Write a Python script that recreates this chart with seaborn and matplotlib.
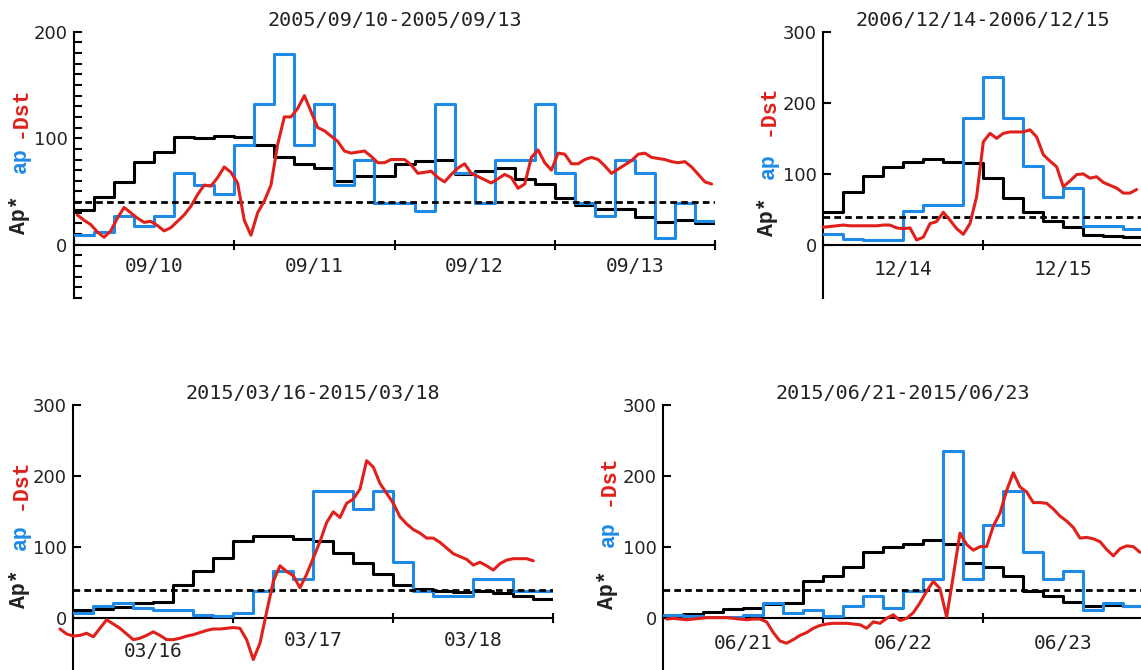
import numpy as np
import pandas as pd
import matplotlib
matplotlib.use("Agg")
import matplotlib.pyplot as plt
import seaborn as sns

# ---------------- data ----------------
titles = ["2005/09/10-2005/09/13", "2006/12/14-2006/12/15",
          "2015/03/16-2015/03/18", "2015/06/21-2015/06/23"]

day_labels_1 = ["09/10", "09/11", "09/12", "09/13"]
day_labels_2 = ["12/14", "12/15"]
day_labels_3 = ["03/16", "03/17", "03/18"]
day_labels_4 = ["06/21", "06/22", "06/23"]

# Ap* (3-hourly, black)
ap_star_1 = [33, 45, 59, 78, 87.5, 101, 100, 102.5, 101.5, 94, 82, 76, 72.5, 60, 65, 65,
             76, 79, 80, 66.5, 69, 72.5, 61.5, 57, 44, 37.5, 34, 34, 26, 21, 23, 20]
ap_star_2 = [47, 75, 97, 110, 117, 120.5, 117, 115, 94, 66, 46, 34, 25, 14, 12, 11]
ap_star_3 = [12, 13, 16.5, 21, 23.5, 47, 67, 85, 109, 116, 116, 112, 109, 92.5, 77.5, 62,
             47, 41, 39, 37.5, 39, 36, 32, 27]
ap_star_4 = [5, 6, 9, 13, 15, 20, 22, 52, 59, 73, 93, 101, 105, 110, 104, 78,
             73, 59, 39, 31, 23, 18, 19, 18]

# ap (3-hourly, blue)
ap_1 = [9, 12, 27, 18, 27, 67, 56, 48, 94, 132, 179, 94, 132, 56, 80, 39,
        39, 32, 132, 67, 39, 80, 80, 132, 67, 39, 27, 80, 67, 6, 39, 22]
ap_2 = [15, 9, 7, 7, 48, 56, 56, 179, 236, 179, 111, 67, 80, 27, 27, 22]
ap_3 = [7, 18, 22, 15, 12, 12, 5, 3, 7, 39, 67, 56, 179, 179, 154, 179,
        80, 39, 32, 32, 56, 56, 39, 39]
ap_4 = [4, 3, 2, 2, 4, 22, 7, 12, 3, 18, 32, 15, 39, 56, 236, 56,
        132, 179, 94, 56, 67, 12, 22, 18]

# -Dst (hourly, red); first sample hour of each event
dst_start_1 = 0.5
minus_dst_1 = [28, 23, 19, 12, 7, 13, 25, 35, 30, 25, 21, 22, 18, 13, 16, 22, 28, 36, 47, 56,
               55, 63, 73, 68, 58, 23, 9, 30, 41, 56, 94, 120, 120, 128, 140, 125, 110, 107, 102, 97,
               88, 86, 87, 88, 83, 77, 77, 80,
               80, 80, 75, 67, 68, 69, 63, 59, 66, 72, 76, 67, 64, 61, 58, 62, 66, 63, 53, 57,
               82, 89, 77, 70, 86, 85, 76, 76, 80, 82, 80, 74, 67, 71, 75, 79, 85, 86, 82, 81,
               80, 78, 77, 78, 73, 66, 59, 57]
dst_start_2 = 0
minus_dst_2 = [25, 26, 27, 28, 27, 27, 27, 27, 27, 28, 28, 24, 23, 24, 7, 11, 30, 33, 46, 35,
               23, 15, 30, 68, 145, 157, 150, 157, 159, 159, 159, 162, 152, 127, 118, 110, 82, 90, 99, 100,
               94, 96, 88, 84, 80, 73, 73, 78]
dst_start_3 = -2
minus_dst_3 = [-15, -22, -25, -24, -21, -26, -14, -2, -8, -14, -22, -30, -28, -24, -19, -24, -30, -30, -28, -25,
               -23, -20, -17, -15, -15, -14, -13, -14, -30, -58, -35, 9, 52, 74, 66, 60, 43, 62, 85, 108,
               135, 150, 142, 162, 168, 182, 222, 213, 190, 176, 162, 143, 133, 125, 120, 113, 113, 107, 99, 91,
               87, 83, 75, 79, 74, 68, 77, 82, 84, 84, 84, 81]
dst_start_4 = 0.5
minus_dst_4 = [-1, 0, -1, -2, -1, 0, 1, 1, 1, 1, 0, -1, -2, -1, -1, -5, -20, -32, -35, -30,
               -24, -20, -14, -10, -8, -7, -7, -7, -8, -9, -14, -5, -7, 0, 5, -3, 0, 8, 22, 38,
               52, 42, 2, 60, 120, 104, 96, 101, 101, 130, 148, 180, 205, 185, 178, 163, 163, 162, 154, 144,
               137, 128, 113, 114, 112, 108, 97, 88, 98, 102, 101, 93]

threshold = 40

# ---------------- style ----------------
BLUE = "#1f8ae6"
RED = "#e0201b"
TXT = "#222222"

sns.set_theme(style="white")
plt.rcParams["font.family"] = ["DejaVu Sans"]

W, H = 1141, 670
fig = plt.figure(figsize=(W / 100, H / 100), dpi=100)


def rect(x0, y0, x1, y1):
    return [x0 / W, 1 - y1 / H, (x1 - x0) / W, (y1 - y0) / H]


def steps_frame(vals):
    t = np.arange(len(vals) + 1) * 3
    return pd.DataFrame({"t": t, "v": list(vals) + [vals[-1]]})


def draw_panel(ax, title, days, apstar, ap, dst, dst_t0, ylim, yticks, yminor,
               lab_px, first_drop_px=0):
    ndays = len(days)
    sns.lineplot(data=steps_frame(apstar), x="t", y="v", ax=ax, color="black", lw=2.2,
                 drawstyle="steps-post", estimator=None, zorder=2)
    sns.lineplot(data=steps_frame(ap), x="t", y="v", ax=ax, color=BLUE, lw=2.2,
                 drawstyle="steps-post", estimator=None, zorder=3)
    ax.axhline(threshold, color="black", lw=2.0, ls=(0, (2.4, 1.5)), zorder=3.5)
    df_red = pd.DataFrame({"t": dst_t0 + np.arange(len(dst)), "v": dst})
    sns.lineplot(data=df_red, x="t", y="v", ax=ax, color=RED, lw=2.2,
                 estimator=None, zorder=4, clip_on=False)

    ax.set_xlim(0, ndays * 24)
    ax.set_ylim(*ylim)
    ax.set_xlabel("")
    ax.set_ylabel("")
    ax.set_facecolor("none")
    for s in ["top", "right"]:
        ax.spines[s].set_visible(False)
    ax.spines["bottom"].set_position(("data", 0))
    for s in ["left", "bottom"]:
        ax.spines[s].set_linewidth(1.5)
        ax.spines[s].set_color("black")
    ax.xaxis.set_ticks_position("bottom")
    ax.yaxis.set_ticks_position("left")
    ax.set_xticks(np.arange(0, ndays * 24 + 1, 24))
    ax.set_xticklabels([])
    ax.tick_params(axis="x", which="major", direction="inout", length=7, width=1.5,
                   color="black")
    ax.set_yticks(yticks)
    ax.set_yticklabels([str(v) for v in yticks])
    ax.tick_params(axis="y", which="major", direction="in", length=5.5, width=1.5,
                   color="black", labelsize=13, pad=4.75, labelcolor=TXT)
    if yminor is not None:
        ax.set_yticks(yminor, minor=True)
        ax.tick_params(axis="y", which="minor", direction="in", length=5.5, width=1.5,
                       color="black")
    ax.set_title(title, fontsize=14.5, family="DejaVu Sans Mono", pad=4.2, color=TXT)
    for i, lab in enumerate(days):
        drop = lab_px + (first_drop_px if i == 0 else 0)
        ax.annotate(lab, xy=(12 + 24 * i, 0), xycoords="data",
                    xytext=(0, -drop * 0.72), textcoords="offset points",
                    ha="center", va="top", fontsize=14, family="DejaVu Sans Mono",
                    color=TXT, annotation_clip=False)


def ylabel_parts(xpx, ys):
    parts = [("Ap*", TXT), ("ap", BLUE), ("-Dst", RED)]
    for (txt, col), y in zip(parts, ys):
        fig.text(xpx / W, 1 - y / H, txt, rotation=90, ha="center", va="center",
                 color=col, fontsize=15.5, family="Liberation Mono", weight="bold")


ax1 = fig.add_axes(rect(74, 31.7, 715, 298))
draw_panel(ax1, titles[0], day_labels_1, ap_star_1, ap_1, minus_dst_1, dst_start_1,
           (-50, 200), [0, 100, 200],
           [v for v in range(-50, 201, 10) if v not in (0, 100, 200)], 12)
ylabel_parts(20, [215, 160, 112])

ax2 = fig.add_axes(rect(823.3, 31.7, 1143.3, 298.3))
draw_panel(ax2, titles[1], day_labels_2, ap_star_2, ap_2, minus_dst_2, dst_start_2,
           (-75, 300), [0, 100, 200, 300], None, 15)
ylabel_parts(768, [217, 166, 110])

ax3 = fig.add_axes(rect(73.3, 405.3, 553.3, 671.6))
draw_panel(ax3, titles[2], day_labels_3, ap_star_3, ap_3, minus_dst_3, dst_start_3,
           (-75, 300), [0, 100, 200, 300], None, 13, first_drop_px=11)
ylabel_parts(20, [589, 537, 484])

ax4 = fig.add_axes(rect(663.3, 405.3, 1143.3, 671.6))
draw_panel(ax4, titles[3], day_labels_4, ap_star_4, ap_4, minus_dst_4, dst_start_4,
           (-75, 300), [0, 100, 200, 300], None, 15.5)
ylabel_parts(608, [590, 534, 480])

fig.savefig("out.png", dpi=100)
